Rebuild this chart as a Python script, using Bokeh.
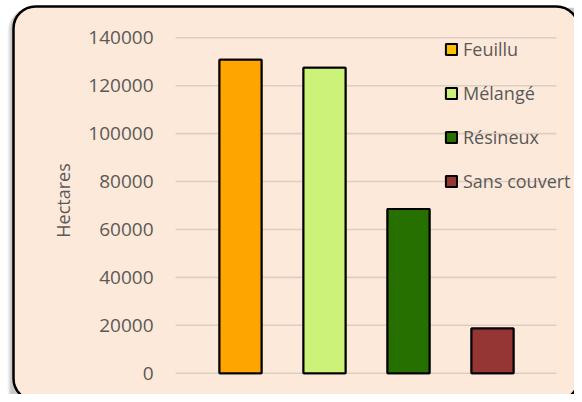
import math
from bokeh.plotting import figure
from bokeh.models import (ColumnDataSource, Legend, LegendItem, BoxAnnotation,
                          Range1d)
from bokeh.core.properties import value
from bokeh.embed import file_html
from bokeh.resources import INLINE

# ---- data ----
categories = ["Feuillu", "Mélangé", "Résineux", "Sans couvert"]
hectares = [130800, 127500, 68500, 18700]
bar_colors = ["#FFA500", "#CCF27A", "#267000", "#963634"]
legend_colors = ["#FFC000", "#CCF27A", "#267000", "#963634"]
y_ticks = [0, 20000, 40000, 60000, 80000, 100000, 120000, 140000]
y_tick_labels = ["0", "20000", "40000", "60000", "80000", "100000", "120000", "140000"]
y_label = "Hectares"

FONT = "Open Sans"
GREY = "#595959"
W, H = 574, 394

# pixel layout of the plotting area inside the canvas
PX0, PX_UNIT = 240.0, 84.0          # x pixel of first bar centre, pixels per category
PY0, PY_TOP = 372.7, 37.3           # y pixel of value 0 and of value 140000
vmax = y_ticks[-1]
py_per_val = (PY0 - PY_TOP) / vmax


def xd(px):
    return (px - PX0) / PX_UNIT


def yd(py):
    return (PY0 - py) / py_per_val


p = figure(width=W, height=H, output_backend="svg", toolbar_location=None,
           x_range=Range1d(xd(0), xd(W)), y_range=Range1d(yd(H), yd(0)),
           min_border=0)
p.border_fill_color = "white"
p.background_fill_color = "white"
p.outline_line_color = None
p.xaxis.visible = False
p.yaxis.visible = False
p.xgrid.visible = False
p.ygrid.visible = False

# soft shadow + rounded chart area
for off, a in [(6, 0.04), (5, 0.05), (4, 0.06), (3, 0.07)]:
    p.add_layout(BoxAnnotation(left=13 - off, right=W + 20, top=6 + off * 0.3,
                               bottom=H + 20,
                               left_units="canvas", right_units="canvas",
                               top_units="canvas", bottom_units="canvas",
                               fill_color="black", fill_alpha=a, line_color=None,
                               border_radius=22, level="image"))
p.add_layout(BoxAnnotation(left=13, right=W + 4, top=6, bottom=H + 6,
                           left_units="canvas", right_units="canvas",
                           top_units="canvas", bottom_units="canvas",
                           fill_color="#FDE9D9", fill_alpha=1.0,
                           line_color="black", line_alpha=1.0, line_width=2.5,
                           border_radius=22, level="image"))

# horizontal grid lines
p.segment(x0=[xd(175)] * len(y_ticks), x1=[xd(556)] * len(y_ticks),
          y0=y_ticks, y1=y_ticks, line_color="#DDCEC4", line_width=1.6,
          level="underlay")

# tick labels
p.text(x=[xd(153)] * len(y_ticks), y=y_ticks, text=y_tick_labels,
       text_align="right", text_baseline="middle", text_font=value(FONT),
       text_font_size="19px", text_color=GREY)

# axis title
p.text(x=[xd(62)], y=[yd(200)], text=[y_label], angle=math.pi / 2,
       text_align="center", text_baseline="middle", text_font=value(FONT),
       text_font_size="18px", text_color=GREY)

xs = list(range(len(categories)))

# legend renderers (hidden beneath the real bars)
items = []
for i, (cat, col) in enumerate(zip(categories, legend_colors)):
    r = p.vbar(x=[xs[i]], top=[hectares[i]], width=0.5, bottom=0,
               fill_color=col, line_color="black", line_width=2)
    items.append(LegendItem(label=cat, renderers=[r]))

src = ColumnDataSource(dict(x=xs, y=hectares, color=bar_colors, cat=categories))
p.vbar(x="x", top="y", width=0.5, bottom=0, source=src, fill_color="color",
       line_color="black", line_width=2)

legend = Legend(items=items, location=(444, 201), padding=0, margin=0,
                spacing=20, glyph_width=14, glyph_height=14, label_height=20,
                label_standoff=5, border_line_color=None,
                background_fill_alpha=0, label_text_font=FONT,
                label_text_font_size="18px", label_text_color=GREY)
p.add_layout(legend)

open("out.html", "w").write(file_html(p, INLINE))
